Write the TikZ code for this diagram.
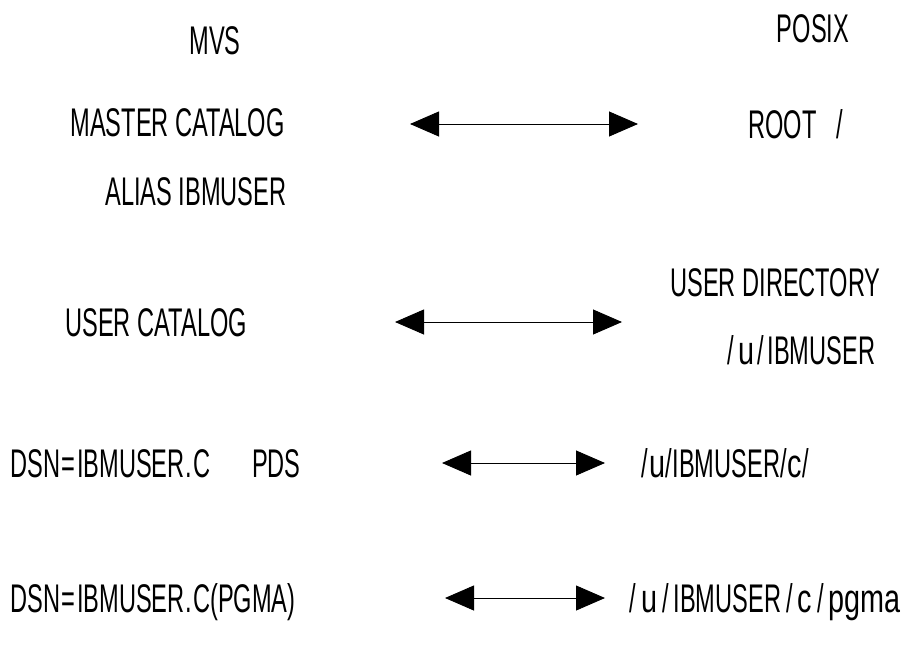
\documentclass[tikz,border=0pt]{standalone}
\usepackage{fontspec}
\setmainfont[FakeStretch=0.59]{Liberation Sans}
\newfontfamily\lcfont[FakeStretch=0.72]{Liberation Sans}
\usetikzlibrary{arrows.meta,positioning}
\newcommand\sls[1][3.5pt]{\kern#1/\kern#1}
\newcommand\lc[1]{{\lcfont #1}}
\newcommand\eqs{\kern1.5pt=\kern1.5pt}

\begin{document}
\begin{tikzpicture}[x=1pt,y=-1pt,<->,>={Triangle[length=29pt,width=25pt]},line width=0.9pt]
  \tikzstyle{every node}=[inner sep=0pt,font=\fontsize{40}{44}\selectfont]
  \tikzstyle{lbl}=[anchor=base west]
  \useasboundingbox (0,0) rectangle (901,651);

  % column heads
  \node[anchor=base] (mvs)   at (215,54) {MVS};
  \node[anchor=base] (posix) at (813,42) {POSIX};

  % MVS side
  \node[lbl] (master) at (70,136)  {MASTER CATALOG};
  \node[lbl] (alias)  at (105,205) {ALIAS IBMUSER};
  \node[lbl] (ucat)   at (65,336)  {USER CATALOG};
  \node[lbl] (pds)    at (10,477)  {DSN\eqs IBMUSER\kern1pt.\kern1pt C\hspace{42pt}PDS};
  \node[lbl] (member) at (10,612)  {DSN\eqs IBMUSER\kern1pt.\kern1pt C(PGMA)};

  % POSIX side
  \node[lbl] (root)   at (748,138) {ROOT\hspace{20pt}/};
  \node[lbl] (udir)   at (670,296) {USER DIRECTORY};
  \node[lbl] (upath)  at (724,364) {\sls\lc{u}\sls IBMUSER};
  \node[lbl] (cdir)   at (641,477) {\sls[0.5pt]\lc{u}\sls[0.5pt]IBMUSER\sls[0.5pt]\lc{c}\sls[0.5pt]};
  \node[lbl] (pgma)   at (624,612) {\sls[5pt]\lc{u}\sls[5pt]IBMUSER\sls[5pt]\lc{c}\sls[5pt]\lc{pgma}};

  \coordinate (a1l) at (410,124);
  \coordinate (a1r) at (638,124);
  \coordinate (a2l) at (395,322);
  \coordinate (a2r) at (622,322);
  \coordinate (a3l) at (442,463);
  \coordinate (a3r) at (605,463);
  \coordinate (a4l) at (445,598);
  \coordinate (a4r) at (605,598);

  \path
  (a1l) edge (a1r)
  (a2l) edge (a2r)
  (a3l) edge (a3r)
  (a4l) edge (a4r);
\end{tikzpicture}
\end{document}
